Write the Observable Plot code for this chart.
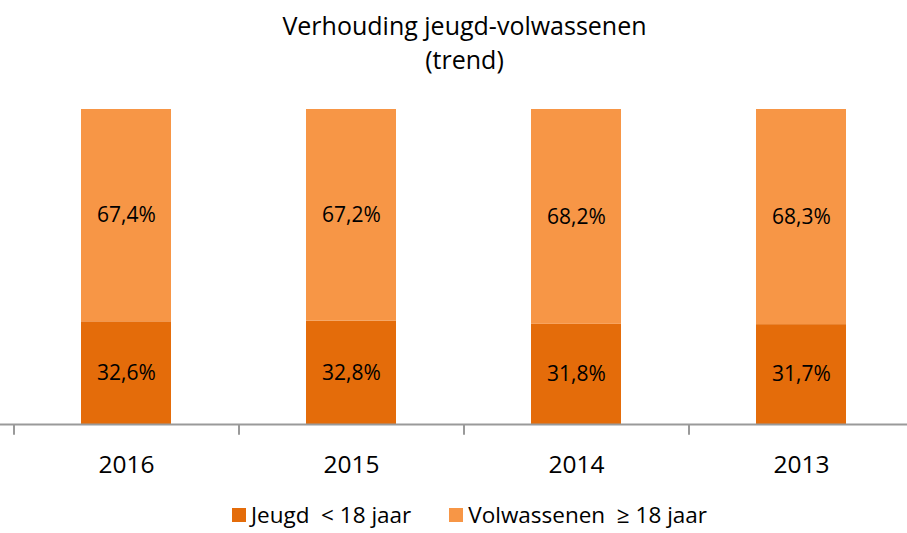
<!DOCTYPE html>
<html>
<head>
<meta charset="utf-8">
<script src="https://cdn.jsdelivr.net/npm/d3@7"></script>
<script src="https://cdn.jsdelivr.net/npm/@observablehq/plot@0.6"></script>
<style>
  html, body { margin: 0; padding: 0; background: #fff; }
  body { width: 907px; height: 533px; overflow: hidden; font-family: "Open Sans", sans-serif; color: #000; }
  #title { position: absolute; left: 0; top: 8px; width: 907px; padding-left: 22px; box-sizing: border-box; text-align: center; font-size: 25px; line-height: 34px; }
  #chart { position: absolute; left: 0; top: 90px; }
  #legend { position: absolute; left: 0; top: 502px; height: 25px; width: 907px; padding-left: 32px; box-sizing: border-box; display: flex; justify-content: center; align-items: center; font-size: 22.5px; line-height: 25px; }
  .item { display: flex; align-items: center; margin: 0 19px; white-space: pre; }
  .sw { width: 14px; height: 14px; margin-right: 5px; }
</style>
</head>
<body>
<div id="title">Verhouding jeugd-volwassenen<br>(trend)</div>
<div id="chart"></div>
<div id="legend"></div>
<script>
const years = ["2016", "2015", "2014", "2013"];
const seriesNames = ["Jeugd  < 18 jaar", "Volwassenen  ≥ 18 jaar"];
const jeugd = [32.6, 32.8, 31.8, 31.7];
const volwassenen = [67.4, 67.2, 68.2, 68.3];
const colors = ["#E46C0A", "#F79646"];

const rows = [];
years.forEach((y, i) => {
  rows.push({year: y, series: seriesNames[0], value: jeugd[i]});
  rows.push({year: y, series: seriesNames[1], value: volwassenen[i]});
});
const fmt = v => v.toFixed(1).replace(".", ",") + "%";

const chart = Plot.plot({
  width: 907,
  height: 394,
  marginTop: 19,
  marginBottom: 60,
  marginLeft: 13,
  marginRight: 0,
  style: {fontFamily: "'Open Sans', sans-serif", background: "#fff", overflow: "visible"},
  x: {domain: years, range: [13, 913], paddingInner: 0.6, paddingOuter: 0.3, axis: null},
  y: {domain: [0, 100], axis: null},
  color: {domain: seriesNames, range: colors},
  marks: [
    Plot.barY(rows, Plot.stackY({x: "year", y: "value", z: "series", fill: "series", order: null})),
    Plot.text(rows, Plot.stackY({x: "year", y: "value", z: "series", order: null, text: d => fmt(d.value), fontSize: 21, fill: "#000"})),
    Plot.ruleY([0], {stroke: "#9a9a9a", strokeWidth: 2, x1: () => years[0], x2: () => years[years.length - 1], insetLeft: -112.5, insetRight: -112.5}),
    Plot.ruleX(years, {x: d => d, dx: -112.5, y1: 0, y2: -3.4, stroke: "#9a9a9a", strokeWidth: 2}),
    Plot.text(years, {x: d => d, y: 0, dy: 41, text: d => d, fontSize: 24.5, fill: "#000"})
  ]
});
document.getElementById("chart").appendChild(chart);

const legend = document.getElementById("legend");
seriesNames.forEach((name, i) => {
  const item = document.createElement("div");
  item.className = "item";
  const sw = document.createElement("div");
  sw.className = "sw";
  sw.style.background = colors[i];
  const label = document.createElement("span");
  label.textContent = name;
  item.appendChild(sw);
  item.appendChild(label);
  legend.appendChild(item);
});
</script>
</body>
</html>
